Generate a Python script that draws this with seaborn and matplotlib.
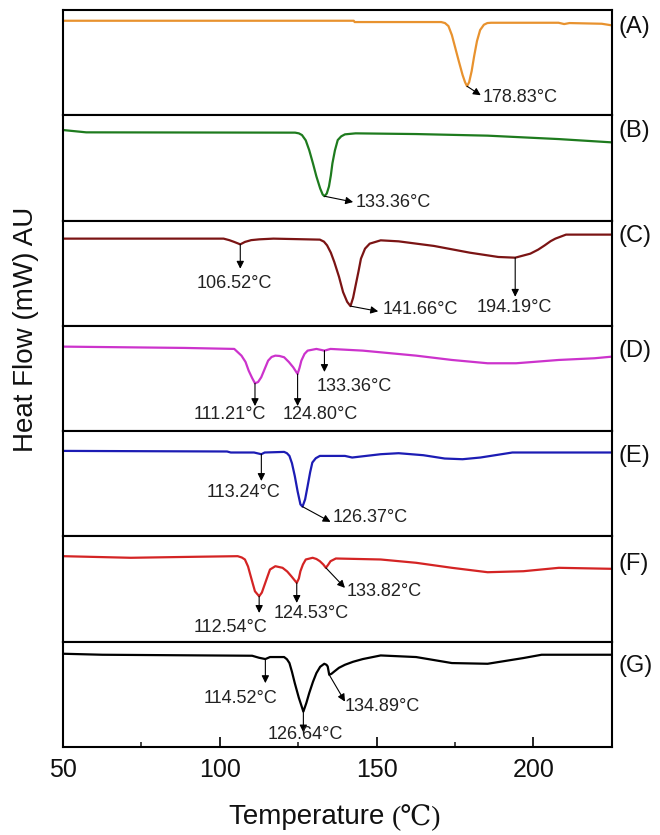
import matplotlib
matplotlib.use("Agg")
import matplotlib.pyplot as plt
import seaborn as sns
import pandas as pd
from matplotlib.ticker import MultipleLocator

# ---------------- data (temperature in °C, heat flow in arbitrary units) ----------------
panel_labels = ["(A)", "(B)", "(C)", "(D)", "(E)", "(F)", "(G)"]
colors = ["#E8922E", "#1E7B1E", "#7B1414", "#CC33CC", "#1C1CB4", "#D42424", "#000000"]

A_T = [50, 142.7, 143.0, 170.6, 171.8, 172.9, 174.0, 175.1, 176.2, 177.4, 178.2, 178.83, 179.5,
       180.3, 181.1, 182.0, 183.0, 184.2, 185.3, 186.5, 208.0, 209.8, 211.5, 221.8, 225]
A_HF = [-10.7, -10.7, -12, -12, -13, -16, -25, -38, -51, -64.7, -72, -76, -72,
        -61, -46, -31, -20, -14.7, -13, -12.7, -12.7, -14, -13, -13.7, -15.3]

B_T = [50, 57.4, 124, 125.2, 126.2, 127.4, 128.5, 129.7, 130.8, 132.0, 132.8, 133.36, 134.1,
       134.8, 135.4, 135.9, 136.7, 137.6, 138.7, 139.9, 143.3, 162.6, 185.4, 208, 225]
B_HF = [-14.7, -17, -17.3, -18, -19.7, -25, -34.7, -48, -61, -73, -79, -80.7, -78,
        -71, -60, -48, -35, -24.7, -21, -19, -18, -18.7, -20.3, -23.7, -27]

C_T = [50, 101.2, 103, 104.6, 106.52, 108, 110, 112.6, 117.1, 131.9, 133.2, 134.2, 135.4, 136.5,
       138.0, 139.3, 140.6, 141.66, 142.5, 143.3, 144.2, 145.0, 146.3, 147.8, 151.3, 157, 168.3,
       179.7, 188.8, 194.19, 199, 201.5, 203.6, 205.5, 207, 210.4, 225]
C_HF = [-18, -18, -19.5, -21.3, -23.7, -21.3, -19.5, -18.7, -18, -19, -21, -24.7, -32, -41.3,
        -56, -71.3, -81, -85.3, -77, -64.7, -51, -38, -28, -23, -19.7, -20.7, -25.3,
        -32, -36.3, -37, -33, -29, -24.7, -20.5, -18, -14, -14]

D_T = [50, 88.7, 104.6, 106.9, 108.2, 109.2, 110.3, 111.21, 112.2, 113.2, 114.3, 115.4, 116.5,
       117.7, 119, 120.5, 122, 123.4, 124.8, 125.4, 126, 127, 128, 130.8, 133.36, 135.3, 145.6,
       162.6, 174, 185.4, 194.5, 208.1, 219.5, 225]
D_HF = [-20.7, -22, -23, -29.7, -36, -44.7, -52, -57.3, -56, -51.3, -43, -34.7, -31,
        -29.7, -30, -31.3, -36, -41.3, -48, -42, -34.7, -28, -24.7, -23, -24.7, -23, -24.7,
        -29.7, -34, -37.3, -37.3, -34, -32.3, -30.7]

E_T = [50, 102.3, 103.5, 110.9, 113.24, 114.3, 120.5, 121.4, 122.2, 123.0, 123.9, 124.8, 125.7,
       126.37, 127.2, 128, 128.8, 129.5, 130.6, 131.9, 139.9, 142.2, 151.3, 157, 164.9, 171.7,
       177.4, 183.1, 193.3, 225]
E_HF = [-19.7, -20.3, -21.3, -21.3, -23, -21.3, -20.7, -22, -24.7, -32, -44.7, -60, -73,
        -75.3, -68, -54.7, -41, -31.3, -27, -24.7, -24.7, -26.3, -23, -22, -24, -27.3,
        -28, -26.3, -21.3, -21.3]

F_T = [50, 71.6, 92.1, 105.7, 107, 108, 109, 109.7, 110.5, 111.2, 112.54, 113.4, 114.3, 115.2,
       116, 117.7, 120, 121.5, 122.8, 124.53, 125.2, 125.7, 126.5, 127.4, 129.6, 130.8, 131.9,
       133.0, 133.82, 134.6, 135.3, 137, 151.3, 162.6, 174, 185.4, 196.8, 208.1, 225]
F_HF = [-19.7, -21.3, -20.3, -19.7, -21, -23, -30, -38, -47, -54.7, -59.7, -56, -48, -40,
        -33, -29.7, -31.3, -35, -39.7, -46.3, -42, -34.7, -28, -23, -21.3, -22.5, -24.7,
        -28, -31.3, -28, -24.7, -22, -23, -26.3, -31.3, -35.7, -34.7, -31.3, -32.3]

G_T = [50, 62.5, 110.3, 112.5, 114.52, 116, 120.5, 121.4, 122.2, 123.0, 123.9, 125.2, 126.64,
       127.6, 128.5, 129.7, 130.8, 132, 133.3, 134.0, 134.4, 134.89, 135.6, 136.5, 138, 139.9,
       142.5, 145.6, 151.3, 162.6, 174, 185.4, 196.8, 202.6, 225]
G_HF = [-12, -13, -14, -16, -17.3, -15.3, -15.3, -17.5, -21.3, -30, -41.3, -56, -69.7,
        -61, -51.3, -40, -31.3, -25, -22, -23, -24.7, -33, -32, -29.7, -26, -23,
        -20, -17.3, -13.7, -15.3, -21.3, -22, -16.3, -13, -13]

curves_T = [A_T, B_T, C_T, D_T, E_T, F_T, G_T]
curves_HF = [A_HF, B_HF, C_HF, D_HF, E_HF, F_HF, G_HF]

# peak annotations: (panel index, peak temperature, heat flow at peak)
peak_panel = [0, 1, 2, 2, 2, 3, 3, 3, 4, 4, 5, 5, 5, 6, 6, 6]
peak_T = [178.83, 133.36, 106.52, 141.66, 194.19, 111.21, 124.80, 133.36,
          113.24, 126.37, 112.54, 124.53, 133.82, 114.52, 126.64, 134.89]
peak_HF = [-76, -80.7, -23.7, -85.3, -37, -57.3, -48, -24.7,
           -23, -75.3, -59.7, -46.3, -31.3, -17.3, -69.7, -33]

# layout of annotations (arrow end x, y ; text x, y ; alignment) -- not data
arrow_end = [(183.2, -85), (142.5, -86.5), (106.52, -48), (150.5, -90.5), (194.19, -76),
             (111.21, -80), (124.8, -80), (133.36, -46), (113.24, -49.7), (135.3, -90.5),
             (112.54, -76.3), (124.53, -66.3), (139.9, -51.3), (114.52, -41.3),
             (126.64, -90.5), (139.9, -59.7)]
text_pos = [(183.7, -87.5, "left"), (143.3, -87.3, "left"), (104.6, -63, "center"),
            (151.8, -88.5, "left"), (194.0, -86.3, "center"), (91.5, -88, "left"),
            (120.0, -88, "left"), (130.8, -60.7, "left"), (107.7, -61.3, "center"),
            (135.9, -86.3, "left"), (91.5, -90.7, "left"), (117.1, -77.3, "left"),
            (140.4, -54.7, "left"), (94.9, -56.3, "left"), (115.4, -93, "left"),
            (139.9, -64.7, "left")]
label_y = [-17, -16, -15, -25, -25, -27, -24]

# ---------------- plotting ----------------
sns.set_theme(style="ticks")
plt.rcParams["font.family"] = ["Liberation Sans", "DejaVu Sans"]

fig, axes = plt.subplots(7, 1, figsize=(6.6, 8.35), dpi=100, sharex=True,
                         gridspec_kw=dict(hspace=0))
fig.subplots_adjust(left=0.0955, right=0.927, top=0.988, bottom=0.1054)

for i, ax in enumerate(axes):
    df = pd.DataFrame({"T": curves_T[i], "HF": curves_HF[i]})
    sns.lineplot(data=df, x="T", y="HF", ax=ax, color=colors[i], linewidth=1.6,
                 estimator=None, sort=False)
    ax.set_xlim(50, 225)
    ax.set_ylim(-105, 0)
    ax.set_xlabel("")
    ax.set_ylabel("")
    ax.set_yticks([])
    for s in ax.spines.values():
        s.set_visible(True)
        s.set_linewidth(1.5)
        s.set_color("black")
    ax.text(1.012, label_y[i], panel_labels[i], transform=ax.get_yaxis_transform(),
            ha="left", va="center", fontsize=17, color="#111111")
    if i < 6:
        ax.tick_params(axis="x", which="both", bottom=False, labelbottom=False)

for k in range(len(peak_T)):
    ax = axes[peak_panel[k]]
    ax.annotate("", xy=arrow_end[k], xytext=(peak_T[k], peak_HF[k]),
                arrowprops=dict(arrowstyle="-|>", color="black", lw=0.8,
                                mutation_scale=11, shrinkA=0, shrinkB=0))
    tx, ty, ha = text_pos[k]
    ax.text(tx, ty, f"{peak_T[k]:.2f}°C", ha=ha, va="center", fontsize=13,
            color="#222222")

axb = axes[-1]
axb.set_xticks([50, 100, 150, 200])
axb.xaxis.set_minor_locator(MultipleLocator(25))
axb.tick_params(axis="x", which="major", direction="in", length=7, width=1.2,
                labelsize=18, pad=8, colors="black")
axb.tick_params(axis="x", which="minor", direction="in", length=3.8, width=1.2)
for lab in axb.get_xticklabels():
    lab.set_color("#111111")

fig.text(0.040, 0.605, "Heat Flow (mW) AU", rotation=90, ha="center", va="center",
         fontsize=20, color="#111111")

# x label: sans text followed by a serif "(℃)"
renderer = fig.canvas.get_renderer()
t1 = fig.text(0, 0.021, "Temperature ", ha="left", va="center", fontsize=20,
              color="#111111")
t2 = fig.text(0, 0.021, "(℃)", ha="left", va="center", fontsize=20, color="#111111",
              family=["Liberation Serif", "DejaVu Serif"])
w1 = t1.get_window_extent(renderer).width / fig.bbox.width
w2 = t2.get_window_extent(renderer).width / fig.bbox.width
x0 = 0.508 - (w1 + w2) / 2
t1.set_x(x0)
t2.set_x(x0 + w1)

fig.savefig("out.png", dpi=100)
